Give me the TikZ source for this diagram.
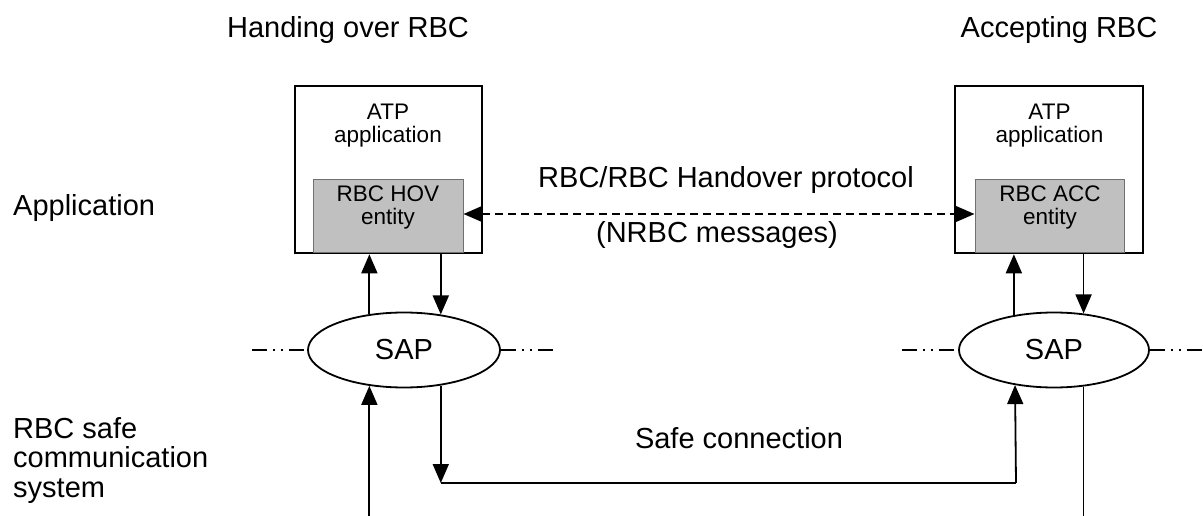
\documentclass[tikz,border=0pt]{standalone}
\usepackage{fontspec}
\setmainfont{Liberation Sans}
\usetikzlibrary{arrows.meta,shapes.geometric}
\definecolor{entgray}{HTML}{C0C0C0}
\definecolor{entline}{HTML}{707070}
\tikzset{
  big/.style={font=\fontsize{29}{30}\selectfont, inner sep=0pt},
  small/.style={font=\fontsize{22.5}{23.5}\selectfont, inner sep=0pt, align=center},
  outerbox/.style={draw, line width=2.6pt, fill=white},
  entbox/.style={draw=entline, line width=1pt, fill=entgray},
  sap/.style={ellipse, draw, line width=1.8pt, inner sep=0pt, font=\fontsize{29}{30}\selectfont},
  arr/.style={line width=1.8pt, -{Triangle[length=19pt,width=16pt]}},
  plain/.style={line width=1.8pt},
  dasharr/.style={line width=1.8pt, dash pattern=on 8pt off 5pt, {Triangle[length=19pt,width=16pt]}-{Triangle[length=19pt,width=16pt]}},
  dashdot/.style={line width=1.8pt, dash pattern=on 15pt off 6pt on 2pt off 6pt on 2pt off 6pt},
}
\begin{document}
\begin{tikzpicture}[x=1pt,y=-1pt]
\useasboundingbox (0,0) rectangle (1203,516);
\coordinate (bot) at (0,516);
% headings
\node[big, anchor=base] (hov) at (348,38) {Handing over RBC};
\node[big, anchor=base] (acc) at (1059,38) {Accepting RBC};
\node[big, anchor=base west] (app) at (13,215) {Application};
\node[big, anchor=base west, align=left, font=\fontsize{29}{29.5}\selectfont] (safe) at (13,497) {RBC safe\\communication\\system};
% boxes
\node[outerbox, minimum width=187pt, minimum height=167pt] (LO) at (388.5,169.5) {};
\node[entbox, minimum width=150pt, minimum height=72pt] (LI) at (388,216) {};
\node[outerbox, minimum width=188pt, minimum height=167pt] (RO) at (1049,169.5) {};
\node[entbox, minimum width=149pt, minimum height=72pt] (RI) at (1049.5,216) {};
\node[small, anchor=base] (LA) at (388,143) {ATP\\application};
\node[small, anchor=base] (LE) at (388,225) {RBC HOV\\entity};
\node[small, anchor=base] (RA) at (1049.5,143) {ATP\\application};
\node[small, anchor=base] (RE) at (1050,225) {RBC ACC\\entity};
% protocol
\node[big, anchor=base] (proto) at (726,188) {RBC/RBC Handover protocol};
\node[big, anchor=base] (nrbc) at (717,242) {(NRBC messages)};
\draw[dasharr] ([yshift=2pt]LI.east) -- ([yshift=2pt]RI.west);
% SAPs
\node[sap, minimum width=192pt, minimum height=75pt] (SL) at (404,350) {SAP};
\node[sap, minimum width=190pt, minimum height=75pt] (SR) at (1054,350) {SAP};
\coordinate (dl1) at (252,350);
\coordinate (dl2) at (553,350);
\coordinate (dr1) at (902,350);
\coordinate (dr2) at (1203,350);
\draw[dashdot] (dl1) -- (SL.west);
\draw[dashdot] (SL.east) -- (dl2);
\draw[dashdot] (dr1) -- (SR.west);
\draw[dashdot] (SR.east) -- (dr2);
% upper arrows
\draw[arr] (SL.134) -- (SL.134 |- LO.south);
\draw[arr] (SL.44 |- LO.south) -- (SL.44);
\draw[arr] (SR.139.6) -- (SR.139.6 |- RO.south);
\draw[arr] (SR.51 |- RO.south) -- (SR.51);
% lower
\node[big, anchor=base] (sc) at (739,448) {Safe connection};
\coordinate (c1) at (440,483);
\coordinate (c2) at (1016,483);
\draw[arr] (SL.226 |- bot) -- (SL.226);
\draw[arr] (SL.316) -- (SL.316 |- c1);
\draw[plain] (SL.316 |- c1) -- (c2);
\draw[arr] (c2) -- (SR.222);
\draw[plain] (SR.309) -- (SR.309 |- bot);
\end{tikzpicture}
\end{document}
